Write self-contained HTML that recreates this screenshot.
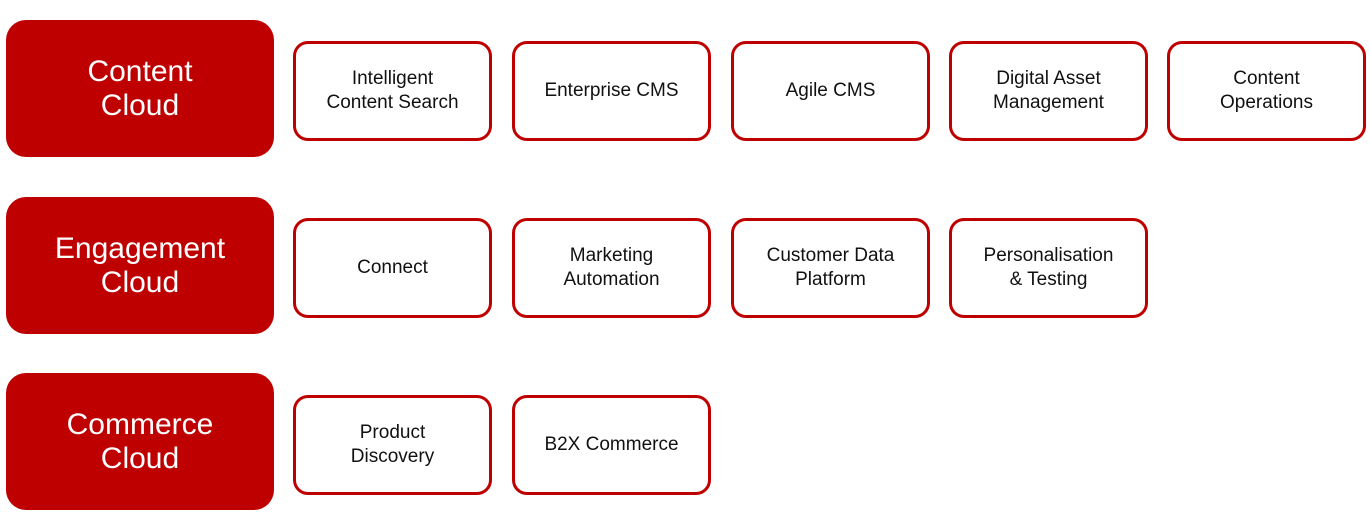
<!DOCTYPE html>
<html><head><style>
body{margin:0;width:1370px;height:521px;background:#fff;position:relative;font-family:"Liberation Sans",sans-serif;overflow:hidden}
.b{position:absolute;left:6px;width:268px;height:137px;background:#bf0000;border-radius:20px;color:#fff;font-size:30px;line-height:34px;display:flex;align-items:center;justify-content:center;text-align:center}
.s{position:absolute;width:193px;height:94px;border:3px solid #bf0000;border-radius:15px;color:#111;font-size:19px;line-height:24px;display:flex;align-items:center;justify-content:center;text-align:center;background:#fff}
</style></head><body>
<div class="b" style="top:20px">Content<br>Cloud</div>
<div class="b" style="top:197px">Engagement<br>Cloud</div>
<div class="b" style="top:373px">Commerce<br>Cloud</div>

<div class="s" style="left:293px;top:41px">Intelligent<br>Content Search</div>
<div class="s" style="left:512px;top:41px">Enterprise CMS</div>
<div class="s" style="left:731px;top:41px">Agile CMS</div>
<div class="s" style="left:949px;top:41px">Digital Asset<br>Management</div>
<div class="s" style="left:1167px;top:41px">Content<br>Operations</div>

<div class="s" style="left:293px;top:218px">Connect</div>
<div class="s" style="left:512px;top:218px">Marketing<br>Automation</div>
<div class="s" style="left:731px;top:218px">Customer Data<br>Platform</div>
<div class="s" style="left:949px;top:218px">Personalisation<br>&amp; Testing</div>

<div class="s" style="left:293px;top:395px">Product<br>Discovery</div>
<div class="s" style="left:512px;top:395px">B2X Commerce</div>
</body></html>
